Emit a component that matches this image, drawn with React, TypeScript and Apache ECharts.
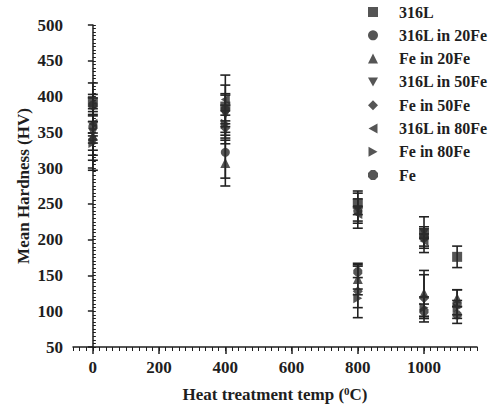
import React, { useEffect, useRef } from "react";
import * as echarts from "echarts";

// Heat treatment temperatures (°C)
const temps = [0, 400, 800, 1000, 1100];

const seriesNames = [
  "316L",
  "316L in 20Fe",
  "Fe in 20Fe",
  "316L in 50Fe",
  "Fe in 50Fe",
  "316L in 80Fe",
  "Fe in 80Fe",
  "Fe",
];

// Mean hardness (HV) per series, and +/- error
const v316L = [392, 386, 250, 207, 176];
const e316L = [27, 44, 15, 25, 15];
const v316Lin20Fe = [358, 322, 240, 203, null];
const e316Lin20Fe = [40, 36, 17, 12, 0];
const vFein20Fe = [345, 307, 145, 125, 118];
const eFein20Fe = [34, 32, 22, 32, 12];
const v316Lin50Fe = [350, 375, 242, 210, null];
const e316Lin50Fe = [15, 41, 26, 8, 0];
const vFein50Fe = [340, 356, 128, 118, 110];
const eFein50Fe = [43, 10, 37, 33, 20];
const v316Lin80Fe = [362, 396, 236, 198, null];
const e316Lin80Fe = [13, 8, 10, 10, 0];
const vFein80Fe = [335, 362, 118, 105, 105];
const eFein80Fe = [10, 12, 13, 15, 10];
const vFe = [388, 382, 155, 100, 95];
const eFe = [15, 20, 8, 10, 12];

const xTicks = [0, 200, 400, 600, 800, 1000];

const values = [v316L, v316Lin20Fe, vFein20Fe, v316Lin50Fe, vFein50Fe, v316Lin80Fe, vFein80Fe, vFe];
const errors = [e316L, e316Lin20Fe, eFein20Fe, e316Lin50Fe, eFein50Fe, e316Lin80Fe, eFein80Fe, eFe];

const symbols = [
  "rect",
  "circle",
  "triangle",
  "path://M0,0 L10,0 L5,9 Z",
  "diamond",
  "path://M9,0 L9,10 L0,5 Z",
  "path://M0,0 L0,10 L9,5 Z",
  "path://M3,0 L7,0 L10,3 L10,7 L7,10 L3,10 L0,7 L0,3 Z",
];

const FONT = "'Liberation Serif', 'Times New Roman', serif";
const INK = "#1e1e1e";

export default function App() {
  const ref = useRef<HTMLDivElement>(null);
  useEffect(() => {
    if (!ref.current) return;
    const chart = echarts.init(ref.current, undefined, { renderer: "svg" });

    const errData: number[][] = [];
    values.forEach((vals, si) => {
      vals.forEach((v, i) => {
        if (v == null) return;
        const e = errors[si][i];
        errData.push([temps[i], v - e, v + e]);
      });
    });

    const scatterSeries = seriesNames.map((name, si) => ({
      name,
      type: "scatter",
      xAxisIndex: 0,
      yAxisIndex: 0,
      symbol: symbols[si],
      symbolKeepAspect: true,
      symbolSize: si === 1 || si === 7 ? 9 : 10,
      itemStyle: { color: "#2b2b2b" },
      z: 3,
      data: values[si]
        .map((v, i) => (v == null ? null : [temps[i], v]))
        .filter((d) => d != null),
    }));

    const option: any = {
      animation: false,
      backgroundColor: "#ffffff",
      textStyle: { fontFamily: FONT },
      grid: { left: 73, right: 24, top: 25, bottom: 64, containLabel: false },
      legend: {
        orient: "vertical",
        left: 363,
        top: -1,
        itemWidth: 10,
        itemHeight: 10,
        itemGap: 7.3,
        data: seriesNames,
        textStyle: {
          fontFamily: FONT,
          fontWeight: "bold",
          fontSize: 16,
          color: INK,
          lineHeight: 15,
          padding: [0, 0, 0, 16],
        },
      },
      xAxis: [
        {
          type: "value",
          min: -60,
          max: 1160,
          interval: 20,
          position: "bottom",
          axisLine: { show: true, lineStyle: { color: INK, width: 1.5 } },
          axisTick: { show: true, interval: 0, length: 4, lineStyle: { color: INK, width: 1 } },
          axisLabel: { show: true, interval: 0, formatter: () => "", hideOverlap: false },
          splitLine: { show: false },
        },
        {
          type: "value",
          min: -60,
          max: 1160,
          position: "bottom",
          axisLine: { show: false },
          axisTick: {
            show: true,
            length: 7,
            customValues: xTicks,
            lineStyle: { color: INK, width: 1.5 },
          },
          axisLabel: {
            show: true,
            customValues: xTicks,
            formatter: (v: number) => String(v),
            margin: 12,
            fontFamily: FONT,
            fontWeight: "bold",
            fontSize: 17,
            color: INK,
          },
          splitLine: { show: false },
          name: "Heat treatment temp ({sup|0}C)",
          nameLocation: "middle",
          nameGap: 38,
          nameMoveOverlap: false,
          nameTextStyle: {
            fontFamily: FONT,
            fontWeight: "bold",
            fontSize: 17,
            color: INK,
            rich: {
              sup: {
                fontFamily: FONT,
                fontWeight: "bold",
                fontSize: 11,
                color: INK,
                verticalAlign: "top",
                padding: [0, 0, 7, 0],
              },
            },
          },
        },
      ],
      yAxis: [
        {
          type: "value",
          min: 50,
          max: 500,
          interval: 50,
          axisLine: { show: true, lineStyle: { color: INK, width: 1.5 } },
          axisTick: { show: true, length: 5, lineStyle: { color: INK, width: 1.5 } },
          splitLine: { show: false },
          axisLabel: {
            margin: 10,
            fontFamily: FONT,
            fontWeight: "bold",
            fontSize: 17,
            color: INK,
          },
          name: "Mean Hardness (HV)",
          nameLocation: "middle",
          nameGap: 41,
          nameMoveOverlap: false,
          nameTextStyle: {
            fontFamily: FONT,
            fontWeight: "bold",
            fontSize: 17,
            color: INK,
          },
        },
        {
          type: "value",
          min: 50,
          max: 500,
          interval: 5,
          position: "left",
          axisLine: { show: false },
          axisTick: { show: true, interval: 0, inside: true, length: 3, lineStyle: { color: INK, width: 1 } },
          axisLabel: { show: true, interval: 0, formatter: () => "", hideOverlap: false },
          splitLine: { show: false },
        },
      ],
      series: [
        {
          name: "errorbars",
          type: "custom",
          xAxisIndex: 0,
          yAxisIndex: 0,
          z: 2,
          encode: { x: 0, y: [1, 2] },
          data: errData,
          renderItem: (params: any, api: any) => {
            const x = api.value(0);
            const lo = api.value(1);
            const hi = api.value(2);
            const pHi = api.coord([x, hi]);
            const pLo = api.coord([x, lo]);
            const w = 5;
            const style = { stroke: "#222", lineWidth: 1.6 };
            return {
              type: "group",
              children: [
                { type: "line", shape: { x1: pHi[0], y1: pHi[1], x2: pLo[0], y2: pLo[1] }, style },
                { type: "line", shape: { x1: pHi[0] - w, y1: pHi[1], x2: pHi[0] + w, y2: pHi[1] }, style },
                { type: "line", shape: { x1: pLo[0] - w, y1: pLo[1], x2: pLo[0] + w, y2: pLo[1] }, style },
              ],
            };
          },
        },
        ...scatterSeries,
      ],
    };
    chart.setOption(option);
    return () => chart.dispose();
  }, []);
  return <div ref={ref} style={{ width: 501, height: 411, position: "absolute", left: 0, top: 0 }} />;
}
